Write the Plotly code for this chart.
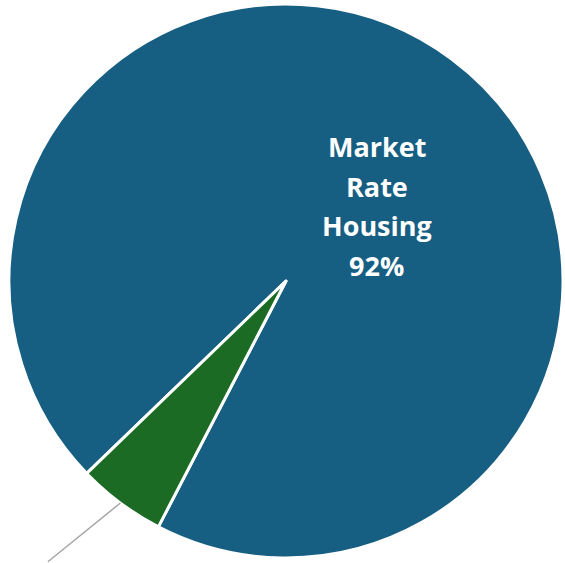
import math
import plotly.graph_objects as go

# Data
categories = ["Market Rate Housing", "Affordable Housing"]
values = [92, 5]
label_lines = ["Market", "Rate", "Housing", "92%"]

colors = ["#165E82", "#1B6B24"]
rotation = 226  # degrees, clockwise from 12 o'clock

W, H = 565, 563
margin = dict(l=9, r=2, t=4, b=5)

fig = go.Figure(go.Pie(
    labels=categories,
    values=values,
    sort=False,
    direction="clockwise",
    rotation=rotation,
    marker=dict(colors=colors, line=dict(color="white", width=3)),
    textinfo="none",
    hoverinfo="label+percent",
    showlegend=False,
))

# Blue slice label, one annotation per line
line_gap = 39.5
n = len(label_lines)
for i, t in enumerate(label_lines):
    fig.add_annotation(
        x=0.664, y=0.635, xref="paper", yref="paper",
        text=t, showarrow=False,
        yshift=((n - 1) / 2 - i) * line_gap,
        font=dict(family="Open Sans", size=27, color="white", weight=700),
    )

# Leader line for the green slice (its label lies below the visible area)
total = sum(values)
mid_deg = rotation + (values[0] + values[1] / 2) / total * 360
mid = math.radians(mid_deg)
px = 0.5 + 0.5 * math.sin(mid)
py = 0.5 + 0.5 * math.cos(mid)
fig.add_annotation(
    x=px, y=py, xref="paper", yref="paper",
    text=" ", showarrow=True, arrowhead=0, arrowwidth=1.5,
    arrowcolor="#A6A6A6", ax=-74, ay=62, standoff=0,
    font=dict(size=1),
)

fig.update_layout(
    width=W, height=H,
    margin=dict(**margin, pad=0),
    paper_bgcolor="white",
    plot_bgcolor="white",
)

fig.write_html("out.html")
